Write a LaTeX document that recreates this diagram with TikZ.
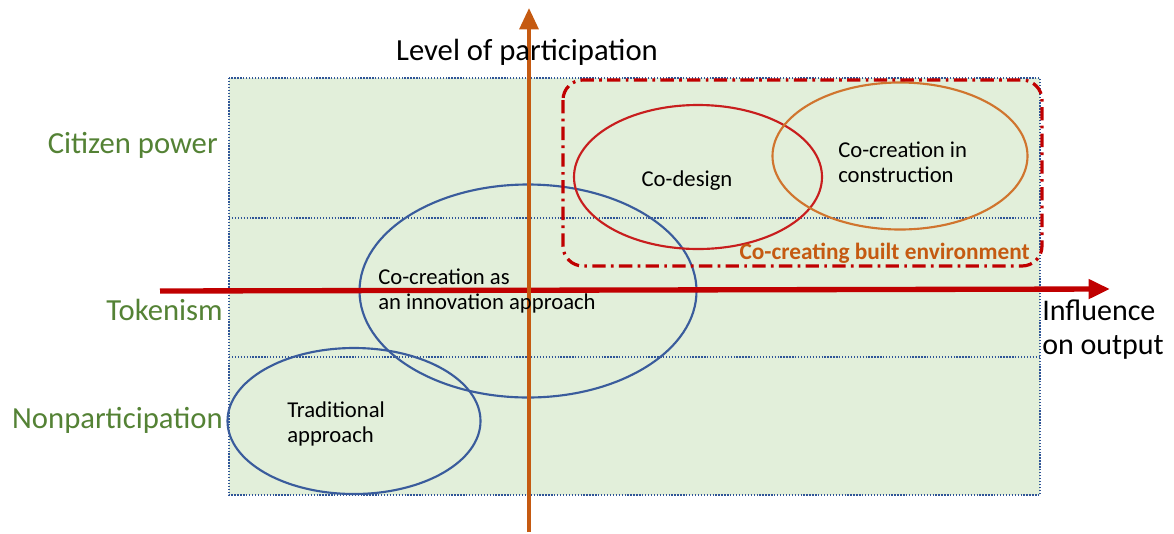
\documentclass[tikz,border=0pt]{standalone}
\usepackage{fontspec}
\setmainfont{Carlito}
\usetikzlibrary{arrows.meta,shapes.geometric}
\definecolor{zonefill}{HTML}{E2EFDA}
\definecolor{zoneline}{HTML}{2F5597}
\definecolor{levelgreen}{HTML}{548235}
\definecolor{axisred}{HTML}{C00000}
\definecolor{axisorange}{HTML}{C55A11}
\definecolor{ringblue}{HTML}{3A5C9C}
\definecolor{ringred}{HTML}{C81E1E}
\definecolor{ringorange}{HTML}{D0752E}
\begin{document}
\begin{tikzpicture}
  [x=0.75pt,y=-0.75pt,
   level/.style={font=\fontsize{23}{25}\selectfont,text=levelgreen,anchor=east,inner sep=0pt},
   label/.style={font=\fontsize{17}{19}\selectfont,align=left,anchor=west,inner sep=0pt},
   ring/.style={ellipse,draw,line width=1.6pt,inner sep=0pt},
   grid/.style={draw=zoneline,line width=1.3pt,dash pattern=on 1pt off 1.2pt}]
    \useasboundingbox (0,0) rectangle (1174,533);

    % participation zones
    \fill[zonefill] (229,78) rectangle (1040,495);
    \foreach \yy in {218,357}
      \draw[grid] (229,\yy) -- (1040,\yy);
    \draw[grid] (229,78) rectangle (1040,495);

    % approaches
    \node (inno) [ring,draw=ringblue,minimum width=337*0.75pt,minimum height=213*0.75pt] at (528,291) {};
    \node (trad) [ring,draw=ringblue,minimum width=253*0.75pt,minimum height=146*0.75pt] at (354,421) {};
    \node (dsgn) [ring,draw=ringred,minimum width=248*0.75pt,minimum height=144*0.75pt] at (698,177) {};
    \node (cons) [ring,draw=ringorange,minimum width=255*0.75pt,minimum height=147*0.75pt] at (900,156) {};

    \draw[axisred,line width=2.4pt,rounded corners=15,
          dash pattern=on 10pt off 4pt on 2pt off 4pt] (563,80) rectangle (1042,266);

    % axes
    \coordinate (xs) at (160,291);
    \coordinate (xe) at (1110,289);
    \coordinate (ys) at (529,532);
    \coordinate (ye) at (529,8);
    \draw[axisred,line width=4pt,-{Triangle[length=16pt,width=14pt]}] (xs) -- (xe);
    \draw[axisorange,line width=3pt,-{Triangle[length=16pt,width=14pt]}] (ys) -- (ye);

    % texts
    \node (ylab) [font=\fontsize{23}{25}\selectfont] at (527,52) {Level of participation};
    \node (xlab) [label,font=\fontsize{22.5}{25}\selectfont,anchor=north west] at (1042,300) {Influence\\on output};

    \node (citz) [level] at (218,145) {Citizen power};
    \node (toke) [level] at (223,310) {Tokenism};
    \node (nonp) [level] at (223,420) {Nonparticipation};

    \node (tinn) [label] at (378,291) {Co-creation as\\an innovation approach};
    \node (ttrd) [label] at (287,424) {Traditional\\approach};
    \node (tdsg) [label,anchor=center] at (687,181) {Co-design};
    \node (tcon) [label] at (838,162) {Co-creation in\\construction};
    \node (tbuilt) [font=\fontsize{17.5}{19}\selectfont\bfseries,text=axisorange,anchor=east,inner sep=0pt] at (1030,253) {Co-creating built environment};
  \end{tikzpicture}
\end{document}
